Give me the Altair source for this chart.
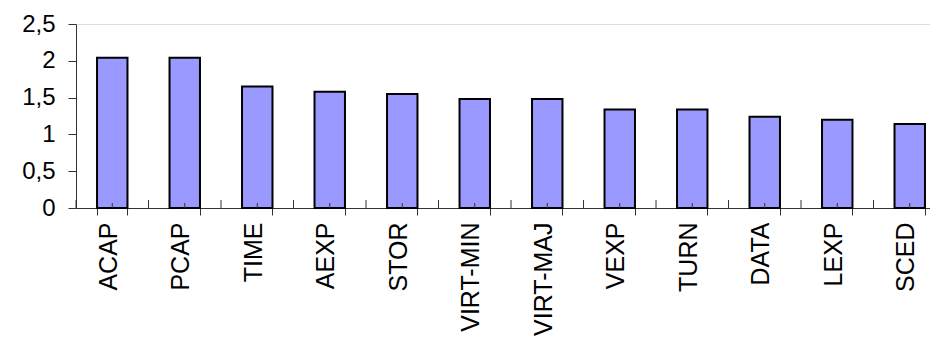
import altair as alt
import pandas as pd

categories = ["ACAP", "PCAP", "TIME", "AEXP", "STOR", "VIRT-MIN", "VIRT-MAJ",
              "VEXP", "TURN", "DATA", "LEXP", "SCED"]
values = [2.04, 2.04, 1.65, 1.58, 1.55, 1.48, 1.48, 1.34, 1.34, 1.24, 1.20, 1.14]
y_ticks = [0, 0.5, 1, 1.5, 2, 2.5]

df = pd.DataFrame({"cat": categories, "val": values})

FONT = "Liberation Sans"
AXIS_COLOR = "#333333"

xscale = alt.Scale(domain=categories, range=[0, 870], paddingInner=0.58, paddingOuter=0.29)
yscale = alt.Scale(domain=[0, 2.5], nice=False, zero=True)

bars = alt.Chart(df).mark_bar(
    fill="#9999FF", stroke="#000000", strokeWidth=2
).encode(
    x=alt.X("cat:N", scale=xscale, sort=categories,
            axis=alt.Axis(title=None, labelAngle=-90, labelFontSize=25, labelFont=FONT,
                          labelColor="#000000", tickBand="extent", tickSize=7,
                          tickColor=AXIS_COLOR, domainColor=AXIS_COLOR,
                          labelPadding=7, labelOffset=-4, labelAlign="right",
                          labelBaseline="middle", labelLimit=0)),
    y=alt.Y("val:Q", scale=yscale,
            axis=alt.Axis(title=None, values=y_ticks, labelFontSize=24, labelFont=FONT,
                          labelColor="#000000", tickSize=8, tickColor=AXIS_COLOR,
                          domainColor=AXIS_COLOR, labelPadding=13, grid=False,
                          labelExpr="replace(toString(datum.value), '.', ',')")),
)

# small upward ticks at category centres
center_ticks = alt.Chart(df).mark_rule(color=AXIS_COLOR, strokeWidth=1).encode(
    x=alt.X("cat:N", scale=xscale, sort=categories),
    y=alt.value(179),
    y2=alt.value(184),
)

# upward part of boundary ticks
boundary_ticks = alt.Chart(df).mark_rule(color=AXIS_COLOR, strokeWidth=1, xOffset=-21.0).encode(
    x=alt.X("cat:N", scale=xscale, sort=categories, bandPosition=0),
    y=alt.value(176),
    y2=alt.value(184),
)

chart = alt.layer(bars, center_ticks, boundary_ticks).properties(
    width=854, height=184,
    autosize=alt.AutoSizeParams(type="none"),
    padding={"left": 76, "top": 24, "right": 0, "bottom": 143},
).configure_view(stroke=None).configure(background="white")

chart.save("out.html", embed_options={"renderer": "svg", "actions": False})
